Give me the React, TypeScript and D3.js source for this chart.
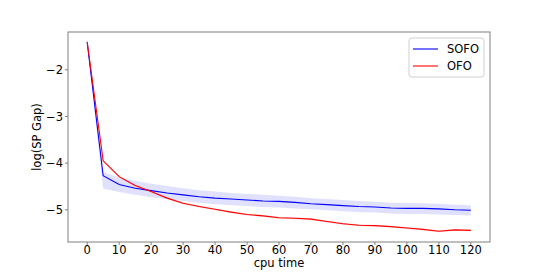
import React from "react";
import * as d3 from "d3";

// cpu time samples
const times = [0, 5, 10, 15, 20, 25, 30, 35, 40, 45, 50, 55, 60, 65, 70, 75, 80, 85, 90, 95, 100, 105, 110, 115, 120];

// SOFO mean and band
const sofo = [-1.41, -4.27, -4.46, -4.54, -4.59, -4.64, -4.68, -4.72, -4.75, -4.77, -4.79, -4.81, -4.82, -4.84, -4.87, -4.89, -4.91, -4.93, -4.94, -4.96, -4.97, -4.97, -4.98, -5.0, -5.01];
const sofoUpper = [-1.39, -4.19, -4.31, -4.38, -4.44, -4.49, -4.54, -4.58, -4.61, -4.64, -4.66, -4.68, -4.7, -4.72, -4.75, -4.77, -4.79, -4.81, -4.83, -4.85, -4.85, -4.86, -4.87, -4.89, -4.9];
const sofoLower = [-1.43, -4.55, -4.62, -4.68, -4.73, -4.77, -4.81, -4.85, -4.88, -4.9, -4.92, -4.94, -4.95, -4.97, -4.99, -5.01, -5.03, -5.05, -5.06, -5.08, -5.09, -5.09, -5.1, -5.11, -5.12];

// OFO mean (band is very thin)
const ofo = [-1.4, -3.95, -4.29, -4.48, -4.61, -4.75, -4.86, -4.93, -4.99, -5.05, -5.1, -5.13, -5.17, -5.18, -5.2, -5.25, -5.3, -5.33, -5.34, -5.36, -5.39, -5.42, -5.46, -5.43, -5.44];
const ofoSpread = [0.01, 0.02, 0.02, 0.02, 0.02, 0.02, 0.02, 0.02, 0.02, 0.02, 0.02, 0.02, 0.02, 0.02, 0.02, 0.02, 0.02, 0.02, 0.02, 0.02, 0.02, 0.02, 0.02, 0.02, 0.02];

const xTicks = [0, 10, 20, 30, 40, 50, 60, 70, 80, 90, 100, 110, 120];
const yTicks = [-2, -3, -4, -5];
const seriesNames = ["SOFO", "OFO"];
const seriesColors = ["#0000ff", "#ff0000"];

export default function App() {
  const width = 545;
  const height = 273;
  const margin = { top: 32, right: 55, bottom: 31, left: 68 };
  const font = "'DejaVu Sans', sans-serif";
  const fs = 11.5;

  const x = d3
    .scaleLinear()
    .domain([-6, 126])
    .range([margin.left, width - margin.right]);
  const y = d3
    .scaleLinear()
    .domain([-5.69, -1.19])
    .range([height - margin.bottom, margin.top]);

  const line = d3
    .line<number>()
    .x((_, i) => x(times[i]))
    .y((d) => y(d));

  const sofoArea = d3
    .area<number>()
    .x((_, i) => x(times[i]))
    .y0((_, i) => y(sofoLower[i]))
    .y1((_, i) => y(sofoUpper[i]));

  const ofoArea = d3
    .area<number>()
    .x((_, i) => x(times[i]))
    .y0((d, i) => y(d - ofoSpread[i]))
    .y1((d, i) => y(d + ofoSpread[i]));

  const x0 = margin.left;
  const x1 = width - margin.right;
  const y0 = height - margin.bottom;
  const y1 = margin.top;

  return (
    <svg
      width={width}
      height={height}
      style={{ position: "absolute", left: 0, top: 0 }}
      fontFamily={font}
    >
      <rect width={width} height={height} fill="#fff" />

      {/* bands */}
      <path d={sofoArea(sofo) ?? ""} fill="#0000ff" fillOpacity={0.12} />
      <path d={ofoArea(ofo) ?? ""} fill="#ff0000" fillOpacity={0.15} />

      {/* lines */}
      <path d={line(sofo) ?? ""} fill="none" stroke={seriesColors[0]} strokeWidth={1.1} />
      <path d={line(ofo) ?? ""} fill="none" stroke={seriesColors[1]} strokeWidth={1.1} />

      {/* frame */}
      <rect
        x={x0}
        y={y1}
        width={x1 - x0}
        height={y0 - y1}
        fill="none"
        stroke="#808080"
        strokeWidth={1}
      />

      {/* x axis */}
      {xTicks.map((t) => (
        <g key={t} transform={`translate(${x(t)},${y0})`}>
          <line y2={3} stroke="#808080" />
          <text y={11.5} textAnchor="middle" fontSize={fs} fill="#000">
            {t}
          </text>
        </g>
      ))}
      <text x={(x0 + x1) / 2} y={266.5} textAnchor="middle" fontSize={fs} fill="#000">
        cpu time
      </text>

      {/* y axis */}
      {yTicks.map((t) => (
        <g key={t} transform={`translate(${x0},${y(t)})`}>
          <line x2={-3} stroke="#808080" />
          <text x={-5} dy="0.36em" textAnchor="end" fontSize={fs} fill="#000">
            {"\u2212" + Math.abs(t)}
          </text>
        </g>
      ))}
      <text
        transform={`translate(41,${(y0 + y1) / 2}) rotate(-90)`}
        textAnchor="middle"
        fontSize={fs}
        fill="#000"
      >
        log(SP Gap)
      </text>

      {/* legend */}
      <g transform="translate(409,38)">
        <rect width={75} height={39} rx={3} fill="#fff" fillOpacity={0.8} stroke="#d0d0d0" />
        {seriesNames.map((name, i) => (
          <g key={name} transform={`translate(0,${11 + i * 17})`}>
            <line x1={4} x2={29} stroke={seriesColors[i]} strokeWidth={1.1} />
            <text x={38} dy="0.36em" fontSize={fs} fill="#000">
              {name}
            </text>
          </g>
        ))}
      </g>
    </svg>
  );
}
